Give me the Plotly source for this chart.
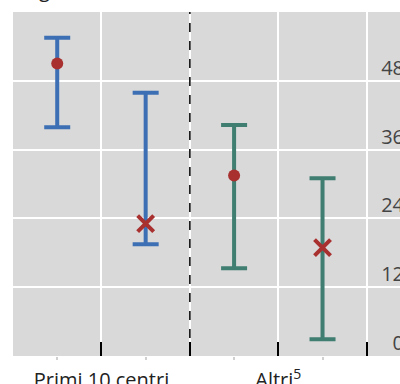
import plotly.graph_objects as go

# ---- data ----
groups = ["Primi 10 centri", "Altri<sup>5</sup>"]
group_colors = ["#3d6fb4", "#3f7e71"]
point_symbols = ["circle", "x-thin"]

centri_center = [51.0, 23.1]
centri_upper = [55.5, 45.9]
centri_lower = [39.9, 19.5]

altri_center = [31.5, 18.9]
altri_upper = [40.3, 31.0]
altri_lower = [15.3, 2.9]

y_ticks = [0, 12, 24, 36, 48]

series = [
    (centri_center, centri_upper, centri_lower),
    (altri_center, altri_upper, altri_lower),
]

marker_red = "#a8302f"
fig = go.Figure()

n_per_group = 2
for gi, (center, upper, lower) in enumerate(series):
    xs = [gi * n_per_group + k + 1 for k in range(len(center))]
    fig.add_trace(go.Scatter(
        x=xs, y=center, mode="markers", name=groups[gi], showlegend=False,
        error_y=dict(type="data", symmetric=False,
                     array=[u - c for u, c in zip(upper, center)],
                     arrayminus=[c - l for c, l in zip(center, lower)],
                     color=group_colors[gi], thickness=4, width=13),
        marker=dict(symbol=point_symbols, color=marker_red, opacity=1,
                    size=[12, 16],
                    line=dict(color=marker_red, width=[0, 4])),
    ))

n_total = n_per_group * len(groups)
group_centers = [gi * n_per_group + (n_per_group + 1) / 2 for gi in range(len(groups))]
boundaries = [gi * n_per_group + 0.5 for gi in range(len(groups) + 1)]

tickvals = sorted(boundaries + group_centers)
ticktext = [groups[group_centers.index(v)] if v in group_centers else "" for v in tickvals]

# dashed divider between the groups
for b in boundaries[1:-1]:
    fig.add_shape(type="line", xref="x", yref="paper", x0=b, x1=b, y0=0, y1=1,
                  line=dict(color="black", width=1.5, dash="dash"))

fig.add_annotation(text="giorni", xref="paper", yref="paper", x=0.063, y=1.021,
                   xanchor="left", yanchor="bottom", showarrow=False,
                   font=dict(size=20, color="#222"))

fig.update_layout(
    width=400, height=384,
    margin=dict(l=13, r=0, t=12, b=28, autoexpand=False),
    paper_bgcolor="white", plot_bgcolor="#d9d9d9",
    font=dict(family="Open Sans", size=20, color="#222"),
    xaxis=dict(range=[0.5, 4.876], tickmode="array", tickvals=tickvals, ticktext=ticktext,
               automargin=False, ticklabelstandoff=10,
               showgrid=True, gridcolor="white", gridwidth=1.5,
               ticks="inside", ticklen=14, tickwidth=1.5, tickcolor="black",
               zeroline=False, showline=False,
               minor=dict(tickmode="array", tickvals=list(range(1, n_total + 1)),
                          ticks="outside", ticklen=3, tickcolor="#d0d0d0", showgrid=False)),
    yaxis=dict(range=[0, 60], tickmode="array", tickvals=y_ticks, automargin=False,
               side="right", ticklabelposition="inside", ticklabelshift=-13,
               ticklabelstandoff=-7, ticklabeloverflow="allow",
               showgrid=True, gridcolor="white", gridwidth=1.5,
               zeroline=False, showline=False, ticks=""),
)

fig.write_html("out.html", config={"displayModeBar": False},
               post_script="document.body.style.margin='0';document.body.style.overflow='hidden';")
